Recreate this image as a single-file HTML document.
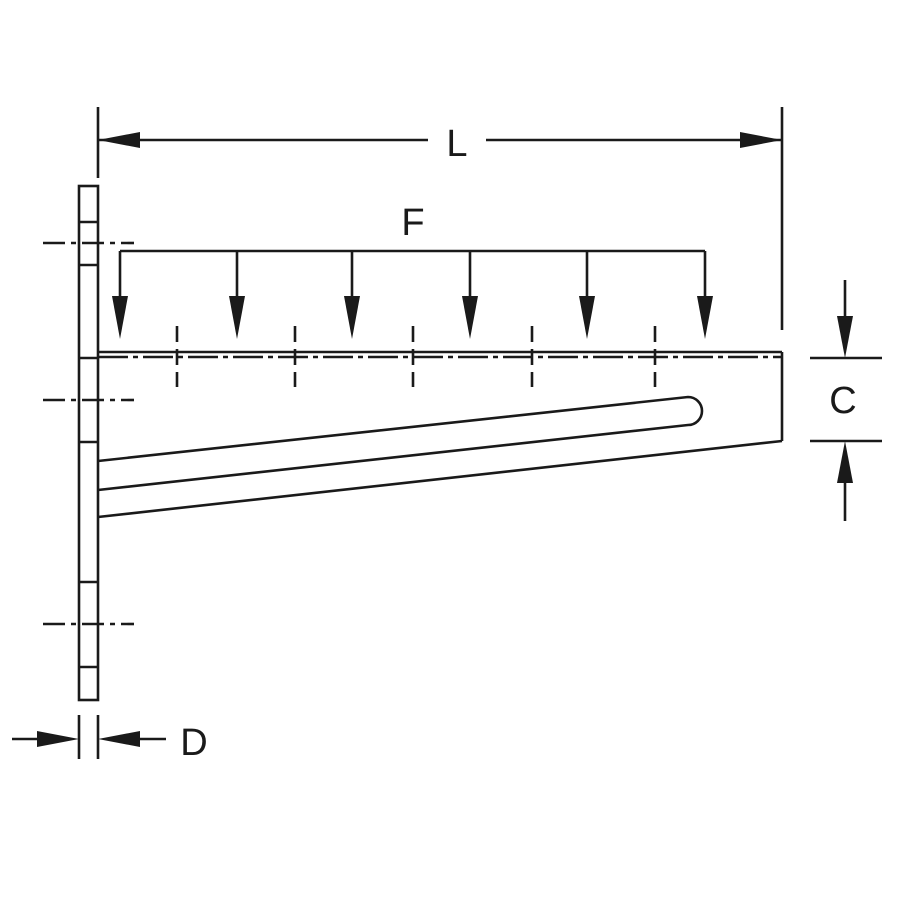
<!DOCTYPE html>
<html><head><meta charset="utf-8"><style>html,body{margin:0;padding:0;background:#fff}svg{display:block}</style></head>
<body>
<svg width="900" height="900" viewBox="0 0 900 900" xmlns="http://www.w3.org/2000/svg">
<g stroke="#1a1a1a" stroke-width="2.6" fill="none">
<!-- L dimension -->
<line x1="98" y1="107" x2="98" y2="178"/>
<line x1="782" y1="107" x2="782" y2="330"/>
<line x1="98" y1="140" x2="428" y2="140"/>
<line x1="486" y1="140" x2="782" y2="140"/>
<!-- plate -->
<rect x="79" y="186" width="19" height="514"/>
<line x1="79" y1="222" x2="98" y2="222"/>
<line x1="79" y1="265" x2="98" y2="265"/>
<line x1="79" y1="358" x2="98" y2="358"/>
<line x1="79" y1="442" x2="98" y2="442"/>
<line x1="79" y1="582" x2="98" y2="582"/>
<line x1="79" y1="667" x2="98" y2="667"/>
<!-- center lines -->
<g stroke-dasharray="22,6,5,6">
<line x1="43" y1="243" x2="134" y2="243"/>
<line x1="43" y1="400" x2="134" y2="400"/>
<line x1="43" y1="624" x2="134" y2="624"/>
</g>
<!-- beam -->
<line x1="98" y1="352" x2="782" y2="352"/>
<line x1="98" y1="357" x2="782" y2="357" stroke-dasharray="30,5,5,5"/>
<line x1="782" y1="352" x2="782" y2="441"/>
<line x1="782" y1="441" x2="98" y2="517"/>
<!-- slot -->
<path d="M98 461 L688 397 A14 14 0 0 1 688 425 L98 490"/>
<!-- vertical dashed marks -->
<g stroke-dasharray="16,7">
<line x1="177" y1="326" x2="177" y2="387"/>
<line x1="295" y1="326" x2="295" y2="387"/>
<line x1="413" y1="326" x2="413" y2="387"/>
<line x1="532" y1="326" x2="532" y2="387"/>
<line x1="655" y1="326" x2="655" y2="387"/>
</g>
<!-- F load -->
<line x1="120" y1="251" x2="705" y2="251"/>
<line x1="120" y1="251" x2="120" y2="300"/>
<line x1="237" y1="251" x2="237" y2="300"/>
<line x1="352" y1="251" x2="352" y2="300"/>
<line x1="470" y1="251" x2="470" y2="300"/>
<line x1="587" y1="251" x2="587" y2="300"/>
<line x1="705" y1="251" x2="705" y2="300"/>
<!-- C dimension -->
<line x1="810" y1="358" x2="882" y2="358"/>
<line x1="810" y1="441" x2="882" y2="441"/>
<line x1="845" y1="280" x2="845" y2="320"/>
<line x1="845" y1="480" x2="845" y2="521"/>
<!-- D dimension -->
<line x1="79" y1="715" x2="79" y2="759"/>
<line x1="98" y1="715" x2="98" y2="759"/>
<line x1="12" y1="739" x2="40" y2="739"/>
<line x1="140" y1="739" x2="166" y2="739"/>
</g>
<g fill="#1a1a1a">
<polygon points="98,140 140,132 140,148"/>
<polygon points="782,140 740,132 740,148"/>
<polygon points="112,296 128,296 120,339"/>
<polygon points="229,296 245,296 237,339"/>
<polygon points="344,296 360,296 352,339"/>
<polygon points="462,296 478,296 470,339"/>
<polygon points="579,296 595,296 587,339"/>
<polygon points="697,296 713,296 705,339"/>
<polygon points="837,316 853,316 845,358"/>
<polygon points="837,483 853,483 845,441"/>
<polygon points="79,739 37,731 37,747"/>
<polygon points="98,739 140,731 140,747"/>
</g>
<g font-family="Liberation Sans, sans-serif" font-size="38" fill="#1a1a1a" text-anchor="middle">
<text x="457" y="156">L</text>
<text x="413" y="235">F</text>
<text x="843" y="413">C</text>
<text x="194" y="755">D</text>
</g>
</svg>
</body></html>
